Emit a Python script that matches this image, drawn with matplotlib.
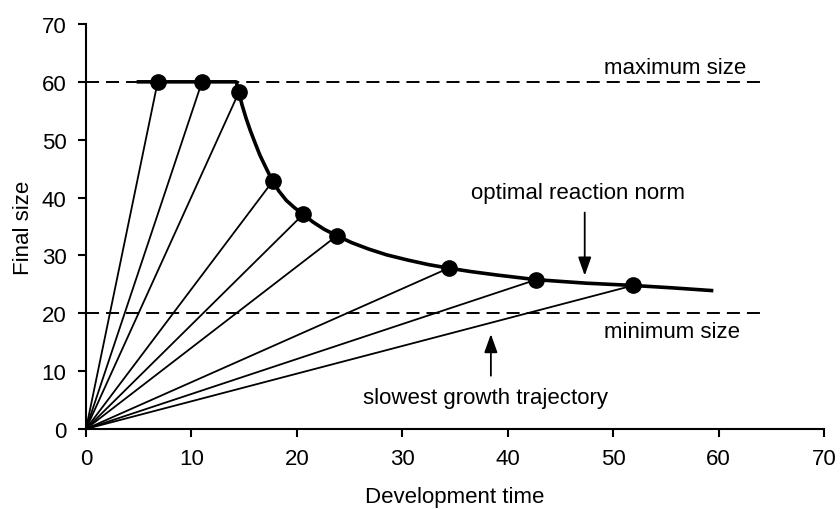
"""Optimal reaction norm for final size against development time."""

import matplotlib

matplotlib.use("Agg")
import matplotlib.pyplot as plt

# growth trajectories end on these (development time, final size) points
dot_time = [6.8, 11.0, 14.5, 17.7, 20.6, 23.8, 34.4, 42.7, 51.9]
dot_size = [60.0, 60.0, 58.2, 42.8, 37.1, 33.4, 27.8, 25.8, 24.8]

# optimal reaction norm traced through the dots
norm_time = [4.8, 14.25, 14.5, 14.8, 15.2, 15.6, 16.0, 16.5, 17.0, 17.7,
             18.3, 19.0, 19.8, 20.6, 21.5, 22.6, 23.8, 25.2, 26.8, 28.5,
             30.5, 32.5, 34.4, 36.5, 39.0, 42.7, 47.4, 51.9, 55.5, 59.5]
norm_size = [60.0, 60.0, 58.2, 56.0, 53.6, 51.5, 49.6, 47.3, 45.4, 42.8,
             41.1, 39.5, 38.2, 37.1, 35.8, 34.5, 33.4, 32.2, 31.1, 30.1,
             29.2, 28.4, 27.8, 27.2, 26.6, 25.8, 25.2, 24.8, 24.4, 23.9]

max_size = 60
min_size = 20
limit_end = 64

plt.rcParams.update(
    {
        "font.family": ["Liberation Sans", "DejaVu Sans"],
        "font.size": 16,
        "axes.linewidth": 1.5,
    }
)

fig = plt.figure(figsize=(8.4, 5.1), dpi=100)
ax = fig.add_axes([0.1024, 0.157, 0.8786, 0.794])

for t, s in zip(dot_time, dot_size):
    ax.plot([0, t], [0, s], color="black", linewidth=1.3, zorder=2)

for level in (max_size, min_size):
    ax.plot([0, limit_end], [level, level], color="black", linewidth=1.4,
            dashes=(6.7, 3.6), zorder=1)

ax.plot(norm_time, norm_size, color="black", linewidth=2.6,
        solid_capstyle="butt", solid_joinstyle="round", zorder=3)
ax.plot(dot_time, dot_size, "o", color="black", markersize=11, zorder=4)

ax.text(49.1, 62.5, "maximum size", ha="left", va="center")
ax.text(49.1, 16.8, "minimum size", ha="left", va="center")
ax.text(46.7, 40.9, "optimal reaction norm", ha="center", va="center")
ax.text(37.9, 5.5, "slowest growth trajectory", ha="center", va="center")

arrow = dict(arrowstyle="-|>,head_length=0.7,head_width=0.25",
             color="black", linewidth=1.3, shrinkA=0, shrinkB=0)
ax.annotate("", xy=(47.3, 26.5), xytext=(47.3, 37.4), arrowprops=arrow)
ax.annotate("", xy=(38.4, 16.4), xytext=(38.4, 9.2), arrowprops=arrow)

ax.set_xlim(0, 70)
ax.set_ylim(0, 70)
ax.set_xticks(range(0, 71, 10))
ax.set_yticks(range(0, 71, 10))
ax.tick_params(direction="out", length=6, width=1.5, pad=8, labelsize=16)
ax.spines["top"].set_visible(False)
ax.spines["right"].set_visible(False)
ax.set_xlabel("Development time", labelpad=12)
ax.set_ylabel("Final size", labelpad=5.5)

fig.savefig("out.png", dpi=100, facecolor="white")
